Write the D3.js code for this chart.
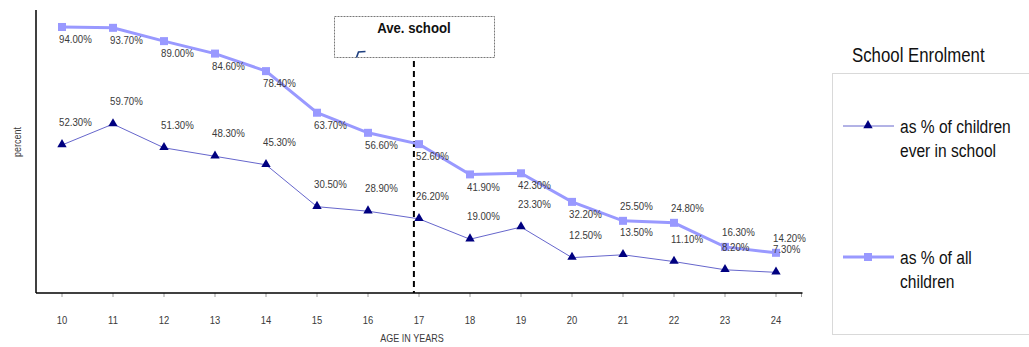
<!DOCTYPE html>
<html>
<head>
<meta charset="utf-8">
<script src="https://cdn.jsdelivr.net/npm/d3@7"></script>
<style>
  html, body { margin: 0; padding: 0; background: #fff; }
  svg { display: block; }
  text { font-family: "Liberation Sans", Arial, sans-serif; }
</style>
</head>
<body>
<svg id="chart" width="1029" height="347"></svg>
<script>
// Age groups and enrolment rates (percent)
const ages = [10, 11, 12, 13, 14, 15, 16, 17, 18, 19, 20, 21, 22, 23, 24];
const everInSchool = [52.3, 59.7, 51.3, 48.3, 45.3, 30.5, 28.9, 26.2, 19.0, 23.3, 12.5, 13.5, 11.1, 8.2, 7.3];
const allChildren = [94.0, 93.7, 89.0, 84.6, 78.4, 63.7, 56.6, 52.6, 41.9, 42.3, 32.2, 25.5, 24.8, 16.3, 14.2];
const seriesNames = ["as % of children\never in school", "as % of all\nchildren"];
const aveSchoolAge = 16.9;
const aveSchoolLabel = "Ave. school";
const legendTitle = "School Enrolment";
const xTitle = "AGE IN YEARS";
const yTitle = "percent";

const svg = d3.select("#chart");
const NARROW = 0.82; // horizontal squeeze for a condensed look

// text drawn at (x, y) with a condensed horizontal scale
function narrowText(parent, x, y, str, size, opts = {}) {
  const t = parent.append("text")
    .attr("transform", `translate(${x},${y}) scale(${opts.sx || NARROW},1)`)
    .attr("text-anchor", opts.anchor || "start")
    .attr("fill", opts.fill || "#3a3a3a")
    .style("font-size", size + "px");
  if (opts.dy) t.attr("dy", opts.dy);
  if (opts.weight) t.style("font-weight", opts.weight);
  t.text(str);
  return t;
}

const plot = { left: 36.5, right: 801.5, top: 10, bottom: 293 };
const x = d3.scaleBand().domain(ages).range([plot.left, plot.right]);
const bw = x.bandwidth();
const cx = d => x(d) + bw / 2;
const xAge = d3.scaleLinear().domain([ages[0], ages[ages.length - 1]]).range([cx(ages[0]), cx(ages[ages.length - 1])]);
const y = d3.scaleLinear().domain([0, 100]).range([plot.bottom, plot.top]);

const fmt = v => v.toFixed(2) + "%";
const labelColor = "#3a3a3a";

// x axis (ticks + labels)
const xAxis = d3.axisBottom(x).tickSize(4).tickPadding(19).tickSizeOuter(0);
const gx = svg.append("g").attr("transform", `translate(0,${plot.bottom})`).call(xAxis);
gx.select(".domain").remove();
gx.selectAll(".tick line").attr("stroke", "#9a9a9a");
gx.selectAll(".tick text").attr("fill", labelColor).style("font-size", "11.5px")
  .style("font-family", "'Liberation Sans', Arial, sans-serif")
  .attr("transform", `scale(${NARROW},1)`);
gx.append("line").attr("x1", plot.right).attr("x2", plot.right).attr("y1", 0).attr("y2", 4).attr("stroke", "#9a9a9a");

// axis lines
svg.append("line").attr("x1", plot.left - 0.5).attr("x2", plot.right + 1).attr("y1", plot.bottom).attr("y2", plot.bottom)
  .attr("stroke", "#000").attr("stroke-width", 1.5);
svg.append("line").attr("x1", plot.left - 0.5).attr("x2", plot.left - 0.5).attr("y1", plot.top).attr("y2", plot.bottom)
  .attr("stroke", "#000").attr("stroke-width", 1.5);

// axis titles
narrowText(svg, 412, 342, xTitle, 11, { anchor: "middle" });
svg.append("text").attr("transform", `translate(21,142) rotate(-90) scale(${NARROW},1)`).attr("text-anchor", "middle")
  .attr("fill", labelColor).style("font-size", "11px").text(yTitle);

// average school-leaving age marker
const xa = xAge(aveSchoolAge);
svg.append("line").attr("x1", xa).attr("x2", xa).attr("y1", 61).attr("y2", plot.bottom)
  .attr("stroke", "#000").attr("stroke-width", 2).attr("stroke-dasharray", "6,4");
const box = { x: 334.5, y: 16.5, w: 160, h: 41 };
svg.append("rect").attr("x", box.x).attr("y", box.y).attr("width", box.w).attr("height", box.h)
  .attr("fill", "#fff").attr("stroke", "#555").attr("stroke-width", 0.8).attr("stroke-dasharray", "2,1");
narrowText(svg, xa, 32.5, aveSchoolLabel, 15, { anchor: "middle", sx: 0.88, weight: "bold", fill: "#111" });
svg.append("path").attr("d", `M${box.x + 22},${box.y + 41} L${box.x + 24},${box.y + 35.5} L${box.x + 31},${box.y + 35}`)
  .attr("fill", "none").attr("stroke", "#1f3f7f").attr("stroke-width", 1.6);

// series: % of all children (thick light line, squares)
const lineGen = d3.line().x((d, i) => cx(ages[i])).y(d => y(d));
svg.append("path").datum(allChildren).attr("d", lineGen)
  .attr("fill", "none").attr("stroke", "#9999ff").attr("stroke-width", 3);
svg.selectAll(".sq").data(allChildren).join("rect").attr("class", "sq")
  .attr("x", (d, i) => cx(ages[i]) - 4).attr("y", d => y(d) - 4).attr("width", 8).attr("height", 8)
  .attr("fill", "#9999ff");

// series: % of children ever in school (thin line, triangles)
svg.append("path").datum(everInSchool).attr("d", lineGen)
  .attr("fill", "none").attr("stroke", "#6666cc").attr("stroke-width", 1);
const tri = d3.symbol().type(d3.symbolTriangle).size(38);
svg.selectAll(".tri").data(everInSchool).join("path").attr("class", "tri")
  .attr("d", tri).attr("transform", (d, i) => `translate(${cx(ages[i])},${y(d) - 0.5})`)
  .attr("fill", "#000080");

// value labels
allChildren.forEach((v, i) => {
  narrowText(svg, cx(ages[i]) - 3, y(v) + (ages[i] >= 21 ? -15 : 12), fmt(v), 11.8, { dy: "0.35em" });
});
everInSchool.forEach((v, i) => {
  narrowText(svg, cx(ages[i]) - 3, y(v) - 23, fmt(v), 11.8, { dy: "0.35em" });
});

// legend
narrowText(svg, 852, 62, legendTitle, 20.5, { fill: "#111" });
svg.append("rect").attr("x", 832.5).attr("y", 73.5).attr("width", 220).attr("height", 261)
  .attr("fill", "none").attr("stroke", "#d9d9d9").attr("stroke-width", 1);

const legendRows = [
  { y: 126, stroke: "#6666cc", width: 1, marker: "tri", text: seriesNames[0] },
  { y: 257, stroke: "#9999ff", width: 3, marker: "sq", text: seriesNames[1] }
];
legendRows.forEach(r => {
  const g = svg.append("g");
  g.append("line").attr("x1", 843).attr("x2", 894).attr("y1", r.y).attr("y2", r.y)
    .attr("stroke", r.stroke).attr("stroke-width", r.width);
  if (r.marker === "tri") {
    g.append("path").attr("d", tri).attr("transform", `translate(868,${r.y - 0.5})`).attr("fill", "#000080");
  } else {
    g.append("rect").attr("x", 864).attr("y", r.y - 4).attr("width", 8).attr("height", 8).attr("fill", "#9999ff");
  }
  r.text.split("\n").forEach((line, k) => {
    narrowText(g, 900, r.y + 7 + k * 24, line, 19, { fill: "#111" });
  });
});
</script>
</body>
</html>
